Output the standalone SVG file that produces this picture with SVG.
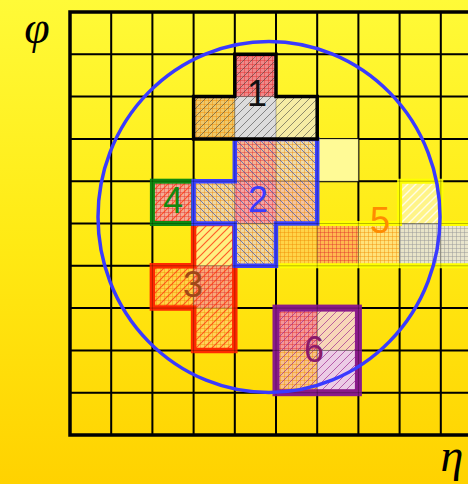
<svg xmlns="http://www.w3.org/2000/svg" xmlns:xlink="http://www.w3.org/1999/xlink" width="468" height="484" viewBox="0 0 468 484">
<style>
.gr{stroke:#e02828;stroke-opacity:.6;stroke-width:.7;fill:none}
.go{stroke:#f08800;stroke-opacity:.6;stroke-width:.7;fill:none}
.gg{stroke:#9a9a9a;stroke-opacity:.7;stroke-width:.7;fill:none}
.dd{stroke:#3a3a3a;stroke-opacity:.55;stroke-width:1;fill:none}
.db{stroke:#4858a8;stroke-opacity:.75;stroke-width:1;fill:none}
.dr{stroke:#ff3a10;stroke-opacity:.8;stroke-width:1.2;fill:none}
.dp{stroke:#a02c90;stroke-opacity:.7;stroke-width:1;fill:none}
.dw{stroke:#ffffff;stroke-opacity:.8;stroke-width:1.4;fill:none}
.lab{font-family:"Liberation Sans",Arial,sans-serif;font-size:36px;text-anchor:middle}
.ax{font-family:"Liberation Serif","Times New Roman",serif;font-style:italic;font-size:46px;fill:#000;text-anchor:middle}
</style>
<defs>
<linearGradient id="bg" x1="0" y1="0" x2="0" y2="1">
<stop offset="0" stop-color="#fffa38"/>
<stop offset="0.5" stop-color="#ffea14"/>
<stop offset="1" stop-color="#ffd200"/>
</linearGradient>
<path id="G" d="M0 .5H8M0 4.5H8M.5 0V8M4.5 0V8"/>
<path id="S" d="M-2 2L2-2M0 8L8 0M6 10L10 6"/>
<path id="B" d="M-2 6L2 10M0 0L8 8M6-2L10 2"/>
<pattern id="rg_dk" width="8" height="8" patternUnits="userSpaceOnUse"><use href="#G" class="gr"/><use href="#S" class="dd"/></pattern>
<pattern id="og_dk" width="8" height="8" patternUnits="userSpaceOnUse"><use href="#G" class="go"/><use href="#S" class="dd"/></pattern>
<pattern id="dk" width="8" height="8" patternUnits="userSpaceOnUse"><use href="#S" class="dd"/></pattern>
<pattern id="rg_bl" width="8" height="8" patternUnits="userSpaceOnUse"><use href="#G" class="gr"/><use href="#B" class="db"/></pattern>
<pattern id="og_bl" width="8" height="8" patternUnits="userSpaceOnUse"><use href="#G" class="go"/><use href="#B" class="db"/></pattern>
<pattern id="rd" width="8" height="8" patternUnits="userSpaceOnUse"><use href="#S" class="dr"/></pattern>
<pattern id="og_rd" width="8" height="8" patternUnits="userSpaceOnUse"><use href="#G" class="go"/><use href="#S" class="dr"/></pattern>
<pattern id="rg_rd" width="8" height="8" patternUnits="userSpaceOnUse"><use href="#G" class="gr"/><use href="#S" class="dr"/></pattern>
<pattern id="wh" width="8" height="8" patternUnits="userSpaceOnUse"><use href="#S" class="dw"/></pattern>
<pattern id="og" width="8" height="8" patternUnits="userSpaceOnUse"><use href="#G" class="go"/></pattern>
<pattern id="rg" width="8" height="8" patternUnits="userSpaceOnUse"><use href="#G" class="gr"/></pattern>
<pattern id="gg" width="8" height="8" patternUnits="userSpaceOnUse"><use href="#G" class="gg"/></pattern>
<pattern id="rg_pu" width="8" height="8" patternUnits="userSpaceOnUse"><use href="#G" class="gr"/><use href="#S" class="dp"/></pattern>
<pattern id="og_pu" width="8" height="8" patternUnits="userSpaceOnUse"><use href="#G" class="go"/><use href="#S" class="dp"/></pattern>
<pattern id="pu" width="8" height="8" patternUnits="userSpaceOnUse"><use href="#S" class="dp"/></pattern>
<path id="grid" d="M111.2 12V435M152.4 12V435M193.6 12V435M234.8 12V435M276 12V435M317.2 12V435M358.4 12V435M399.6 12V435M440.8 12V435M70 54.3H468M70 96.6H468M70 138.9H468M70 181.2H468M70 223.5H468M70 265.8H468M70 308.1H468M70 350.4H468M70 392.7H468" fill="none"/>
</defs>

<rect width="468" height="484" fill="url(#bg)"/>

<g id="grid-lines">
<use href="#grid" stroke="#000" stroke-width="2"/>
<path d="M468 12H70V435H468" fill="none" stroke="#000" stroke-width="3.5"/>
</g>

<rect id="pale-cell" x="317.2" y="138.9" width="41.2" height="42.3" fill="#fffa96"/>

<g id="cluster5">
<rect x="399.6" y="181.2" width="41.2" height="42.3" fill="#fff488"/><rect x="399.6" y="181.2" width="41.2" height="42.3" fill="url(#wh)"/>
<rect x="276" y="223.5" width="41.2" height="42.3" fill="#ffd448"/><rect x="276" y="223.5" width="41.2" height="42.3" fill="url(#og)"/>
<rect x="317.2" y="223.5" width="41.2" height="42.3" fill="#ffb850"/><rect x="317.2" y="223.5" width="41.2" height="42.3" fill="url(#rg)"/>
<rect x="358.4" y="223.5" width="41.2" height="42.3" fill="#ffe27a"/><rect x="358.4" y="223.5" width="41.2" height="42.3" fill="url(#og)"/>
<rect x="399.6" y="223.5" width="41.2" height="42.3" fill="#e8e4c8"/><rect x="399.6" y="223.5" width="41.2" height="42.3" fill="url(#gg)"/>
<rect x="440.8" y="223.5" width="41.2" height="42.3" fill="#e8e4cc"/><rect x="440.8" y="223.5" width="41.2" height="42.3" fill="url(#gg)"/>
<path d="M472 223.5H440.8V181.2H399.6V223.5H276V265.8H472" fill="none" stroke="#ffff00" stroke-width="5"/>
</g>

<g id="cluster3">
<rect x="193.6" y="223.5" width="41.2" height="42.3" fill="#fff080"/><rect x="193.6" y="223.5" width="41.2" height="42.3" fill="url(#rd)"/>
<rect x="152.4" y="265.8" width="41.2" height="42.3" fill="#ffd448"/><rect x="152.4" y="265.8" width="41.2" height="42.3" fill="url(#og_rd)"/>
<rect x="193.6" y="265.8" width="41.2" height="42.3" fill="#f8a878"/><rect x="193.6" y="265.8" width="41.2" height="42.3" fill="url(#rg_rd)"/>
<rect x="193.6" y="308.1" width="41.2" height="42.3" fill="#ffd458"/><rect x="193.6" y="308.1" width="41.2" height="42.3" fill="url(#og_rd)"/>
<path d="M193.6 223.5H234.8V350.4H193.6V308.1H152.4V265.8H193.6Z" fill="none" stroke="#ff2a00" stroke-width="5.5"/>
</g>

<g id="cluster4">
<rect x="152.4" y="181.2" width="41.2" height="42.3" fill="#f4ac94"/><rect x="152.4" y="181.2" width="41.2" height="42.3" fill="url(#rg_rd)"/>
<rect x="152.4" y="181.2" width="41.2" height="42.3" fill="none" stroke="#108a10" stroke-width="5"/>
</g>

<g id="cluster2">
<rect x="234.8" y="138.9" width="41.2" height="42.3" fill="#f4b494"/><rect x="234.8" y="138.9" width="41.2" height="42.3" fill="url(#rg_bl)"/>
<rect x="276" y="138.9" width="41.2" height="42.3" fill="#eedcac"/><rect x="276" y="138.9" width="41.2" height="42.3" fill="url(#og_bl)"/>
<rect x="193.6" y="181.2" width="41.2" height="42.3" fill="#eed8a4"/><rect x="193.6" y="181.2" width="41.2" height="42.3" fill="url(#og_bl)"/>
<rect x="234.8" y="181.2" width="41.2" height="42.3" fill="#f4a4a4"/><rect x="234.8" y="181.2" width="41.2" height="42.3" fill="url(#rg_bl)"/>
<rect x="276" y="181.2" width="41.2" height="42.3" fill="#f4c4a0"/><rect x="276" y="181.2" width="41.2" height="42.3" fill="url(#og_bl)"/>
<rect x="234.8" y="223.5" width="41.2" height="42.3" fill="#eed8a4"/><rect x="234.8" y="223.5" width="41.2" height="42.3" fill="url(#og_bl)"/>
<path d="M234.8 138.9H317.2V223.5H276V265.8H234.8V223.5H193.6V181.2H234.8Z" fill="none" stroke="#3a40ff" stroke-width="4.5"/>
</g>

<g id="cluster1">
<rect x="234.8" y="54.3" width="41.2" height="42.3" fill="#f08888"/><rect x="234.8" y="54.3" width="41.2" height="42.3" fill="url(#rg_dk)"/>
<rect x="193.6" y="96.6" width="41.2" height="42.3" fill="#f0c868"/><rect x="193.6" y="96.6" width="41.2" height="42.3" fill="url(#og_dk)"/>
<rect x="234.8" y="96.6" width="41.2" height="42.3" fill="#dcdcdc"/><rect x="234.8" y="96.6" width="41.2" height="42.3" fill="url(#dk)"/>
<rect x="276" y="96.6" width="41.2" height="42.3" fill="#f6eca4"/><rect x="276" y="96.6" width="41.2" height="42.3" fill="url(#dk)"/>
<path d="M193.6 96.6H234.8V54.3H276V96.6H317.2V138.9H193.6Z" fill="none" stroke="#000" stroke-width="3.5"/>
</g>

<g id="cluster6">
<rect x="276" y="308.1" width="41.2" height="42.3" fill="#f49898"/><rect x="276" y="308.1" width="41.2" height="42.3" fill="url(#rg_pu)"/>
<rect x="317.2" y="308.1" width="41.2" height="42.3" fill="#f8d6b8"/><rect x="317.2" y="308.1" width="41.2" height="42.3" fill="url(#pu)"/>
<rect x="276" y="350.4" width="41.2" height="42.3" fill="#f8c488"/><rect x="276" y="350.4" width="41.2" height="42.3" fill="url(#og_pu)"/>
<rect x="317.2" y="350.4" width="41.2" height="42.3" fill="#ecccE6"/><rect x="317.2" y="350.4" width="41.2" height="42.3" fill="url(#pu)"/>
<rect x="276" y="308.1" width="82.4" height="84.6" fill="none" stroke="#8a1a8a" stroke-width="7"/>
</g>

<use href="#grid" stroke="#000" stroke-width=".8" stroke-opacity=".35"/>

<g id="labels">
<text class="lab" x="257" y="106" fill="#111">1</text>
<text class="lab" x="258" y="212" fill="#3a3aff">2</text>
<text class="lab" x="193" y="297" fill="#a04818">3</text>
<text class="lab" x="173" y="213" fill="#108a10">4</text>
<text class="lab" x="380" y="233" fill="#ff8c00">5</text>
<text class="lab" x="314" y="362" fill="#8a1a6a">6</text>
</g>

<ellipse id="cone" cx="269" cy="217" rx="171" ry="175.5" fill="none" stroke="#3a3aff" stroke-width="3.5"/>

<text class="ax" x="37" y="43">φ</text>
<text class="ax" x="452" y="471">η</text>
</svg>
